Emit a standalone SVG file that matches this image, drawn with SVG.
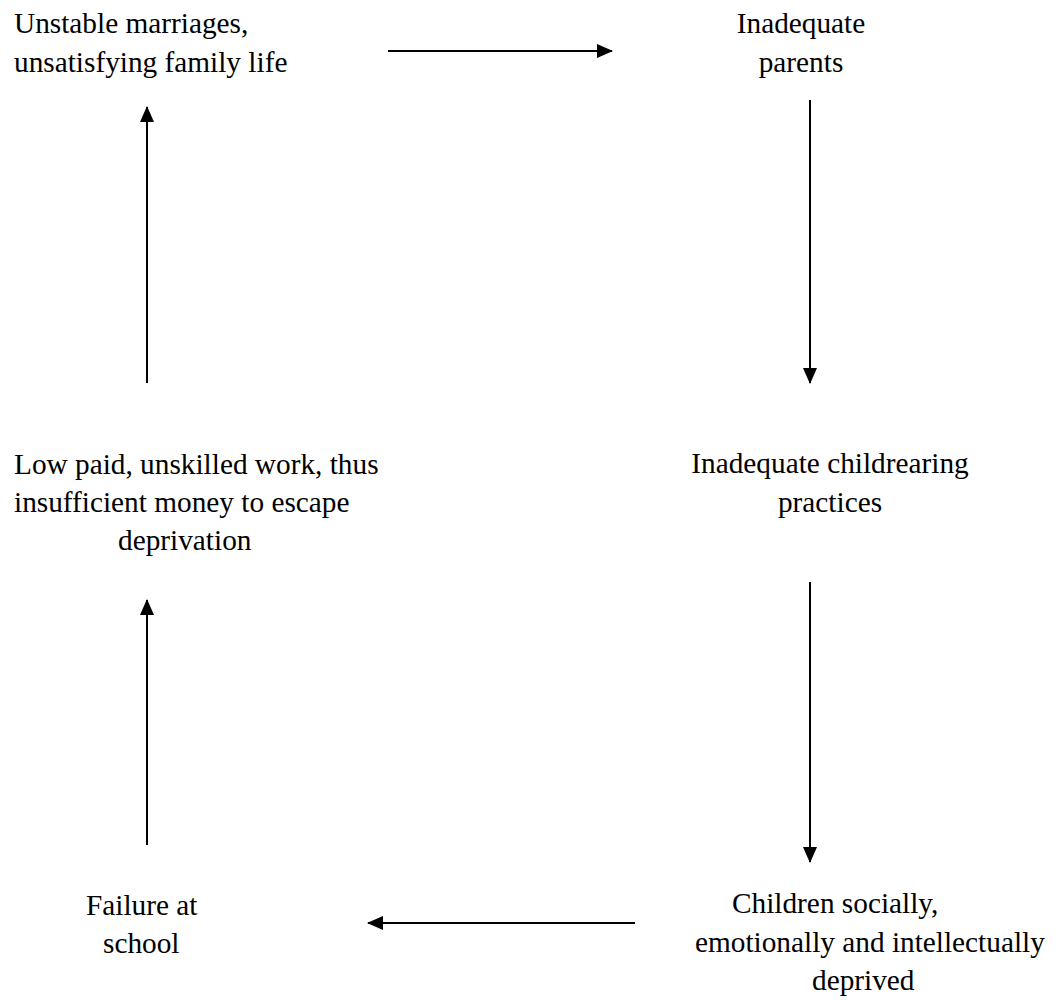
<svg xmlns="http://www.w3.org/2000/svg" width="1058" height="1002" viewBox="0 0 1058 1002">
<style>
text{font-family:'Liberation Serif','Times New Roman',Times,serif;font-size:29.3px;fill:#000}
.c{text-anchor:middle}
.e{stroke:#000;stroke-width:2;fill:none;marker-end:url(#ah)}
</style>
<defs>
<marker id="ah" viewBox="0 0 16 14" refX="15" refY="7" markerWidth="16" markerHeight="14" markerUnits="userSpaceOnUse" orient="auto">
<path d="M0,0 L16,7 L0,14 Z" fill="#000"/>
</marker>
</defs>
<rect width="1058" height="1002" fill="#fff"/>
<g id="connectors">
<line class="e" x1="388" y1="51" x2="612" y2="51"/>
<line class="e" x1="810" y1="100" x2="810" y2="383"/>
<line class="e" x1="810" y1="582" x2="810" y2="862"/>
<line class="e" x1="635" y1="923" x2="368" y2="923"/>
<line class="e" x1="147" y1="845" x2="147" y2="600"/>
<line class="e" x1="147" y1="383" x2="147" y2="107"/>
</g>
<g id="n1"><text x="14" y="33">Unstable marriages,</text><text x="14" y="72">unsatisfying family life</text></g>
<g id="n2"><text class="c" x="801" y="33">Inadequate</text><text class="c" x="801" y="72">parents</text></g>
<g id="n3"><text class="c" x="830" y="473">Inadequate childrearing</text><text class="c" x="830" y="512">practices</text></g>
<g id="n4"><text x="732" y="913">Children socially,</text><text x="695" y="952">emotionally and intellectually</text><text x="812" y="990">deprived</text></g>
<g id="n5"><text x="86" y="915">Failure at</text><text x="103" y="953">school</text></g>
<g id="n6"><text x="14" y="474">Low paid, unskilled work, thus</text><text x="14" y="512">insufficient money to escape</text><text x="118" y="550">deprivation</text></g>
</svg>
